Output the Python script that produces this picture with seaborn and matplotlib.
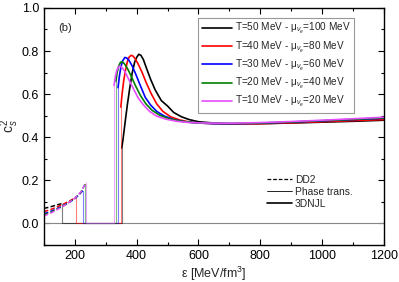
import matplotlib
matplotlib.use("Agg")
import matplotlib.pyplot as plt
import seaborn as sns
import numpy as np
from matplotlib.lines import Line2D
from matplotlib.ticker import MultipleLocator

sns.set_theme(style="ticks")
plt.rcParams.update({
    "font.family": ["Liberation Sans", "DejaVu Sans"],
    "font.size": 9,
    "mathtext.fontset": "custom",
    "mathtext.rm": "Liberation Sans",
    "mathtext.it": "Liberation Sans:italic",
})

#---------- dados ----------
labels = [
    r"T=50 MeV - μ$_{\nu_e}$=100 MeV",
    r"T=40 MeV - μ$_{\nu_e}$=80 MeV",
    r"T=30 MeV - μ$_{\nu_e}$=60 MeV",
    r"T=20 MeV - μ$_{\nu_e}$=40 MeV",
    r"T=10 MeV - μ$_{\nu_e}$=20 MeV",
]
colors = ["#000000", "#ff0000", "#0000ff", "#008000", "#e64dff"]

# fase hadronica (DD2)
eps_h50 = [100, 115, 130, 145, 157]
cs2_h50 = [0.070, 0.075, 0.081, 0.087, 0.092]
eps_h40 = [100, 120, 140, 160, 180, 195, 204]
cs2_h40 = [0.055, 0.064, 0.075, 0.088, 0.102, 0.114, 0.122]
eps_h30 = [100, 125, 150, 175, 200, 215, 226]
cs2_h30 = [0.045, 0.058, 0.074, 0.092, 0.115, 0.135, 0.153]
eps_h20 = [100, 125, 150, 175, 200, 220, 234]
cs2_h20 = [0.040, 0.054, 0.072, 0.092, 0.117, 0.145, 0.185]
eps_h10 = [100, 125, 150, 175, 200, 220, 236]
cs2_h10 = [0.035, 0.050, 0.070, 0.091, 0.117, 0.147, 0.190]

# fase de quarks (3DNJL)
eps_q50 = [352, 356, 362, 370, 378, 386, 394, 400, 407, 414, 422, 432, 445, 460,
           480, 500, 520, 545, 570, 600, 650, 700, 800, 900, 1000, 1100, 1200]
cs2_q50 = [0.35, 0.39, 0.46, 0.55, 0.63, 0.70, 0.75, 0.77, 0.785, 0.78, 0.76, 0.72,
           0.67, 0.62, 0.57, 0.545, 0.515, 0.495, 0.482, 0.472, 0.466, 0.463, 0.463,
           0.466, 0.470, 0.474, 0.479]
eps_q40 = [349, 353, 358, 364, 370, 376, 382, 388, 395, 405, 418, 432, 448, 465,
           485, 510, 540, 570, 600, 650, 700, 800, 900, 1000, 1100, 1200]
cs2_q40 = [0.54, 0.60, 0.66, 0.71, 0.75, 0.772, 0.78, 0.777, 0.765, 0.74, 0.70,
           0.65, 0.60, 0.555, 0.52, 0.495, 0.480, 0.471, 0.466, 0.463, 0.462,
           0.463, 0.467, 0.472, 0.477, 0.482]
eps_q30 = [340, 344, 349, 355, 362, 368, 376, 386, 398, 412, 428, 445, 465, 490,
           520, 555, 600, 650, 700, 800, 900, 1000, 1100, 1200]
cs2_q30 = [0.63, 0.68, 0.725, 0.755, 0.77, 0.768, 0.755, 0.73, 0.69, 0.64, 0.585,
           0.55, 0.52, 0.498, 0.482, 0.472, 0.466, 0.463, 0.463, 0.465, 0.470,
           0.476, 0.482, 0.488]
eps_q20 = [333, 337, 342, 348, 353, 360, 370, 382, 396, 412, 430, 450, 475, 505,
           540, 580, 630, 700, 800, 900, 1000, 1100, 1200]
cs2_q20 = [0.66, 0.70, 0.73, 0.748, 0.75, 0.742, 0.72, 0.685, 0.64, 0.595, 0.555,
           0.525, 0.502, 0.486, 0.475, 0.468, 0.465, 0.464, 0.466, 0.471, 0.477,
           0.483, 0.490]
eps_q10 = [327, 331, 336, 341, 345, 352, 362, 374, 388, 404, 422, 442, 465, 495,
           530, 570, 620, 700, 800, 900, 1000, 1100, 1200]
cs2_q10 = [0.64, 0.68, 0.71, 0.727, 0.73, 0.725, 0.705, 0.67, 0.63, 0.585, 0.55,
           0.52, 0.498, 0.484, 0.474, 0.468, 0.466, 0.465, 0.468, 0.473, 0.479,
           0.486, 0.493]

hadron = [(eps_h50, cs2_h50), (eps_h40, cs2_h40), (eps_h30, cs2_h30),
          (eps_h20, cs2_h20), (eps_h10, cs2_h10)]
quark = [(eps_q50, cs2_q50), (eps_q40, cs2_q40), (eps_q30, cs2_q30),
         (eps_q20, cs2_q20), (eps_q10, cs2_q10)]

#---------- figura ----------
fig = plt.figure(figsize=(3.99, 2.82), dpi=100)
ax = fig.add_axes([0.110, 0.131, 0.852, 0.841])

ax.axhline(0, color="#888888", lw=0.8, zorder=1)

for (eh, ch), (eq, cq), col in zip(hadron, quark, colors):
    # transicao de fase
    xt = [eh[-1], eh[-1], eq[0], eq[0]]
    yt = [ch[-1], 0, 0, cq[0]]
    sns.lineplot(x=xt, y=yt, sort=False, estimator=None, color=col,
                 lw=0.8, alpha=0.5, ax=ax)
    sns.lineplot(x=eh, y=ch, sort=False, estimator=None, color=col,
                 lw=1.1, ls=(0, (3, 1.5)), ax=ax)
    sns.lineplot(x=eq, y=cq, sort=False, estimator=None, color=col,
                 lw=1.2, ax=ax)

ax.set_xlim(100, 1200)
ax.set_ylim(-0.1, 1.0)
ax.xaxis.set_major_locator(MultipleLocator(200))
ax.xaxis.set_minor_locator(MultipleLocator(100))
ax.yaxis.set_major_locator(MultipleLocator(0.2))
ax.yaxis.set_minor_locator(MultipleLocator(0.1))
ax.yaxis.set_major_formatter(matplotlib.ticker.FormatStrFormatter("%.1f"))
ax.tick_params(which="both", direction="in", top=True, right=True,
               labelsize=9, colors="black", width=0.8)
ax.tick_params(which="major", length=4)
ax.tick_params(which="minor", length=2)
for s in ax.spines.values():
    s.set_color("black")
    s.set_linewidth(1.0)

ax.set_xlabel(r"ε [MeV/fm$^3$]", fontsize=9, labelpad=2)
ax.set_ylabel(r"c$_s^2$", fontsize=10)
ax.yaxis.set_label_coords(-0.068, 0.5)
ax.text(145, 0.905, "(b)", fontsize=8, ha="left", va="center")

handles1 = [Line2D([], [], color=c, lw=1.2) for c in colors]
leg1 = ax.legend(handles1, labels, loc="upper right",
                 bbox_to_anchor=(0.912, 0.958), fontsize=7.2,
                 frameon=True, fancybox=False, edgecolor="#999999",
                 framealpha=1, handlelength=3.0, handletextpad=0.3,
                 labelspacing=0.32, borderpad=0.35, borderaxespad=0)
leg1.get_frame().set_linewidth(0.8)
ax.add_artist(leg1)

handles2 = [Line2D([], [], color="black", lw=0.9, ls=(0, (3, 1.5))),
            Line2D([], [], color="black", lw=0.6),
            Line2D([], [], color="black", lw=1.2)]
ax.legend(handles2, ["DD2", "Phase trans.", "3DNJL"], loc="lower right",
          bbox_to_anchor=(0.92, 0.135), fontsize=7.4, frameon=False,
          handlelength=2.4, handletextpad=0.3, labelspacing=0.2,
          borderaxespad=0)

fig.savefig("out.png", dpi=100)
